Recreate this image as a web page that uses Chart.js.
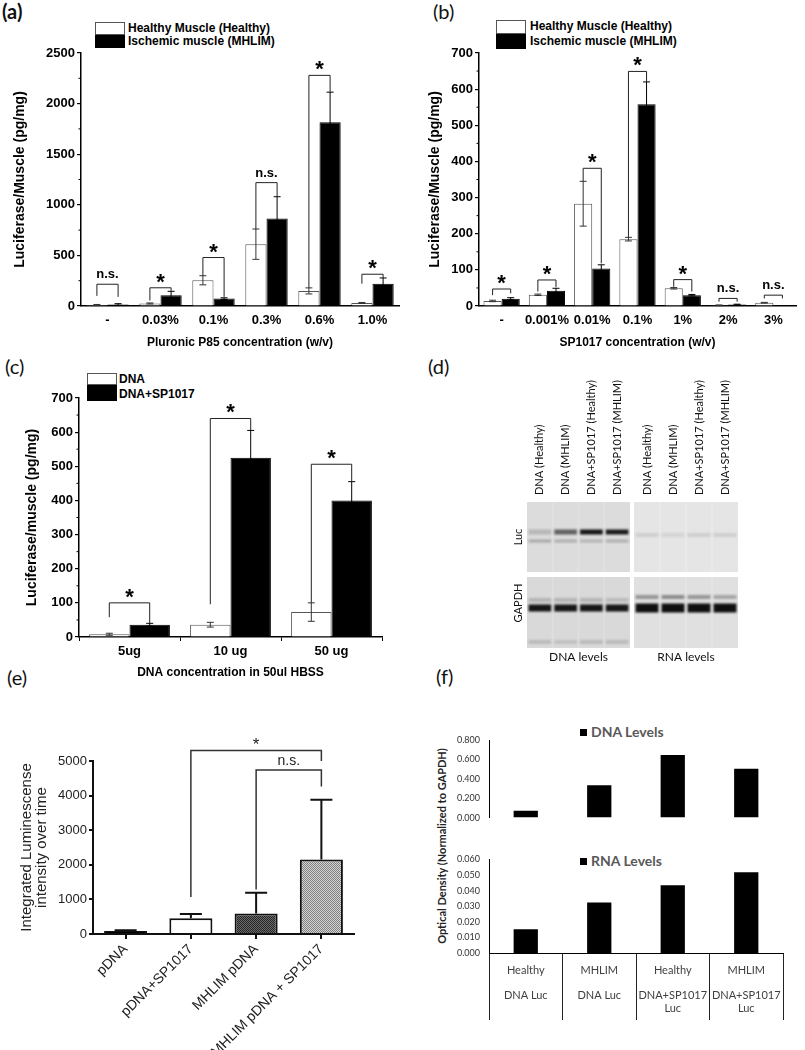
<!DOCTYPE html>
<html>
<head>
<meta charset="utf-8">
<script src="https://cdn.jsdelivr.net/npm/chart.js@4.4.1/dist/chart.umd.min.js"></script>
<style>
body{margin:0;background:#fff;width:805px;height:1050px;position:relative;overflow:hidden;font-family:'Liberation Sans',Arial,sans-serif}
canvas{position:absolute}
.plab{position:absolute;font-family:Lato,'Open Sans',sans-serif;font-size:20px;line-height:20px;color:#111}
.lg{position:absolute;font:bold 12px 'Liberation Sans',Arial,sans-serif;line-height:14px;color:#000;white-space:nowrap}
.box{position:absolute;box-sizing:border-box}
.fl{position:absolute;font:bold 14px Lato,sans-serif;line-height:16px;color:#595959;white-space:nowrap}
.fl span{display:inline-block;width:7px;height:7px;background:#000;margin-right:4px;vertical-align:1px}
</style>
</head>
<body>
<div class="plab" style="left:2px;top:1px;font-weight:bold">(a)</div>
<div class="plab" style="left:433px;top:1px">(b)</div>
<div class="plab" style="left:5px;top:356px">(c)</div>
<div class="plab" style="left:428px;top:356px">(d)</div>
<div class="plab" style="left:7px;top:667px">(e)</div>
<div class="plab" style="left:436px;top:666px">(f)</div>

<!-- legends -->
<div class="box" style="left:95px;top:22px;width:30px;height:13px;border:1px solid #555;background:#fff"></div>
<div class="box" style="left:95px;top:35px;width:30px;height:13px;background:#000"></div>
<div class="lg" style="left:128px;top:21px">Healthy Muscle (Healthy)</div>
<div class="lg" style="left:128px;top:34px">Ischemic muscle (MHLIM)</div>

<div class="box" style="left:496px;top:20px;width:30px;height:14px;border:1px solid #555;background:#fff"></div>
<div class="box" style="left:496px;top:34px;width:30px;height:15px;background:#000"></div>
<div class="lg" style="left:530px;top:19px">Healthy Muscle (Healthy)</div>
<div class="lg" style="left:530px;top:34px">Ischemic muscle (MHLIM)</div>

<div class="box" style="left:87px;top:373px;width:30px;height:12px;border:1px solid #555;background:#fff"></div>
<div class="box" style="left:87px;top:385px;width:30px;height:16px;background:#000"></div>
<div class="lg" style="left:119px;top:372px">DNA</div>
<div class="lg" style="left:119px;top:387px">DNA+SP1017</div>

<div class="fl" style="left:580px;top:724px"><span></span>DNA Levels</div>
<div class="fl" style="left:580px;top:853px"><span></span>RNA Levels</div>
<div style="position:absolute;left:312px;top:839px;width:260px;text-align:center;font:bold 11px Lato,sans-serif;line-height:14px;color:#222;transform:rotate(-90deg)">Optical Density (Normalized to GAPDH)</div>

<canvas id="ca" width="405" height="310" style="left:0;top:40px"></canvas>
<canvas id="cb" width="405" height="310" style="left:400px;top:40px"></canvas>
<canvas id="cc" width="405" height="325" style="left:0;top:355px"></canvas>
<canvas id="gd1" width="127" height="305" style="left:505px;top:365px"></canvas>
<canvas id="gd2" width="113" height="305" style="left:632px;top:365px"></canvas>
<canvas id="ce" width="400" height="330" style="left:0;top:720px"></canvas>
<canvas id="cf1" width="405" height="112" style="left:400px;top:720px"></canvas>
<canvas id="cf2" width="405" height="180" style="left:400px;top:845px"></canvas>

<script>
// ---------- data ----------
// (a) Pluronic P85
var catsA = ['-', '0.03%', '0.1%', '0.3%', '0.6%', '1.0%'];
var healthyA = [10, 25, 254, 611, 149, 30];
var healthyErrA = [5, 5, 45, 150, 30, 5];
var mhlimA = [15, 105, 73, 865, 1816, 221];
var mhlimErrA = [8, 40, 8, 215, 297, 56];
var bracketA = [215, 180, 479, 1219, 2279, 314];
var legLA = [100, 55, 299, 761, 179, 220];
var legRA = [90, 145, 90, 1080, 2113, 277];
var sigA = ['n.s.', '*', '*', 'n.s.', '*', '*'];

// (b) SP1017
var catsB = ['-', '0.001%', '0.01%', '0.1%', '1%', '2%', '3%'];
var healthyB = [14, 31, 283, 185, 49, 2, 9];
var healthyErrB = [2, 2, 62, 5, 2, 1, 1];
var mhlimB = [20, 42, 104, 558, 30, 4, 0];
var mhlimErrB = [3, 7, 10, 62, 2, 1, 0];
var bracketB = [47, 72, 381, 649, 73, 21, 30];
var legLB = [30, 40, 345, 190, 53, 12, 21];
var legRB = [35, 52, 118, 620, 40, 12, 21];
var sigB = ['*', '*', '*', '*', '*', 'n.s.', 'n.s.'];

// (c) DNA dose
var catsC = ['5ug', '10 ug', '50 ug'];
var dnaC = [8, 36, 73];
var dnaErrC = [3, 7, 27];
var spC = [36, 525, 400];
var spErrC = [4, 80, 55];
var bracketC = [100, 640, 506];
var legLC = [58, 96, 100];
var legRC = [40, 605, 455];
var sigC = ['*', '*', '*'];

// (d) gel band intensities (0..1) per lane
var gelLanes = ['DNA (Healthy)', 'DNA (MHLIM)', 'DNA+SP1017 (Healthy)', 'DNA+SP1017 (MHLIM)'];
var lucDNA = [0.18, 0.6, 0.97, 0.95];
var lucDNALow = [0.25, 0.22, 0.2, 0.22];
var lucRNA = [0.1, 0.08, 0.1, 0.1];
var gapdhDNA = [0.97, 0.97, 0.97, 0.97];
var gapdhDNAUp = [0.18, 0.18, 0.18, 0.15];
var gapdhDNALow = [0.15, 0.12, 0.15, 0.15];
var gapdhRNA = [1, 1, 1, 1];
var gapdhRNAUp = [0.35, 0.4, 0.35, 0.28];

// (e) integrated luminescence
var catsE = ['pDNA', 'pDNA+SP1017', 'MHLIM pDNA', 'MHLIM pDNA + SP1017'];
var valE = [90, 455, 590, 2150];
var errE = [20, 120, 600, 1730];
var pairsE = [[1, 3], [2, 3]];
var bracketE = [5300, 4740];
var legsE = [[1070, 5000], [1284, 4260]];
var sigE = ['*', 'n.s.'];

// (f) optical density
var groupF = ['Healthy', 'MHLIM', 'Healthy', 'MHLIM'];
var treatF = [['DNA Luc'], ['DNA Luc'], ['DNA+SP1017', 'Luc'], ['DNA+SP1017', 'Luc']];
var dnaF = [0.070, 0.333, 0.645, 0.503];
var rnaF = [0.0152, 0.0324, 0.0434, 0.0518];

Chart.defaults.font.family = "'Liberation Sans', Arial, sans-serif";
Chart.defaults.color = '#000';
Chart.defaults.animation = false;
Chart.defaults.plugins.legend.display = false;
Chart.defaults.plugins.tooltip.enabled = false;

function plain(v) { return String(v); }

// error bars, brackets and minor ticks for the grouped charts
function sigPlugin(cfg) {
  return {
    id: 'sig',
    afterDatasetsDraw: function(chart) {
      var ctx = chart.ctx, y = chart.scales.y, area = chart.chartArea;
      ctx.save();
      ctx.lineWidth = 1;
      cfg.errors.forEach(function(err, d) {
        var meta = chart.getDatasetMeta(d);
        var vals = chart.data.datasets[d].data;
        ctx.strokeStyle = d === 0 ? '#333' : '#000';
        meta.data.forEach(function(bar, i) {
          if (!err[i]) return;
          var yt = y.getPixelForValue(vals[i] + err[i]);
          var yb = y.getPixelForValue(Math.max(vals[i] - err[i], 0));
          ctx.beginPath();
          ctx.moveTo(bar.x, yt); ctx.lineTo(bar.x, yb);
          ctx.moveTo(bar.x - 3.5, yt); ctx.lineTo(bar.x + 3.5, yt);
          ctx.moveTo(bar.x - 3.5, yb); ctx.lineTo(bar.x + 3.5, yb);
          ctx.stroke();
        });
      });
      var m0 = chart.getDatasetMeta(0), m1 = chart.getDatasetMeta(1);
      ctx.strokeStyle = '#222';
      ctx.fillStyle = '#000';
      ctx.textAlign = 'center';
      ctx.textBaseline = 'alphabetic';
      cfg.bracket.forEach(function(b, i) {
        var x1 = m0.data[i].x, x2 = m1.data[i].x, yb = y.getPixelForValue(b);
        ctx.beginPath();
        ctx.moveTo(x1, y.getPixelForValue(cfg.legL[i]));
        ctx.lineTo(x1, yb); ctx.lineTo(x2, yb);
        ctx.lineTo(x2, y.getPixelForValue(cfg.legR[i]));
        ctx.stroke();
        if (cfg.sig[i] === '*') {
          ctx.font = "bold 22px 'Liberation Sans', Arial";
          ctx.fillText('*', (x1 + x2) / 2, yb + 1);
        } else {
          ctx.font = "bold 13px 'Liberation Sans', Arial";
          ctx.fillText(cfg.sig[i], (x1 + x2) / 2, yb - 6);
        }
      });
      // minor ticks on y axis
      ctx.strokeStyle = '#000';
      for (var v = cfg.minor; v < y.max; v += cfg.minor * 2) {
        var py = y.getPixelForValue(v);
        ctx.beginPath(); ctx.moveTo(area.left - 2.5, py); ctx.lineTo(area.left, py); ctx.stroke();
      }
      ctx.restore();
    }
  };
}

function groupedChart(id, o) {
  return new Chart(document.getElementById(id), {
    type: 'bar',
    data: {
      labels: o.labels,
      datasets: [
        { data: o.a, backgroundColor: '#fff', borderColor: '#555', borderWidth: 1, categoryPercentage: 0.8, barPercentage: 1 },
        { data: o.b, backgroundColor: '#000', borderColor: '#000', borderWidth: 1, categoryPercentage: 0.8, barPercentage: 1 }
      ]
    },
    options: {
      responsive: false,
      layout: { padding: o.pad },
      scales: {
        x: {
          ticks: { font: { size: 13, weight: 'bold' }, color: '#000', padding: 3, maxRotation: 0, minRotation: 0, autoSkip: false },
          grid: { display: o.xTicks, drawOnChartArea: false, tickLength: 4, color: '#000', offset: true },
          border: { display: true, color: '#000', width: 1.5 },
          title: { display: true, text: o.xTitle, font: { size: 12, weight: 'bold' }, color: '#000', padding: { top: 0, bottom: 0 } },
          afterFit: function(s) { s.height = o.xH; }
        },
        y: {
          min: 0, max: o.max,
          ticks: { stepSize: o.step, font: { size: 13, weight: 'bold' }, color: '#000', padding: 2, callback: plain },
          grid: { display: true, drawOnChartArea: false, tickLength: 4, color: '#000', lineWidth: 1.2 },
          border: { display: true, color: '#000', width: 1.5 },
          title: { display: true, text: o.yTitle, font: { size: 14, weight: 'bold' }, color: '#000', padding: { top: o.yTitlePad, bottom: 0 } },
          afterFit: function(s) { s.width = o.yW; }
        }
      }
    },
    plugins: [sigPlugin(o.sig)]
  });
}

groupedChart('ca', {
  labels: catsA, a: healthyA, b: mhlimA, max: 2500, step: 500, xTicks: false,
  pad: { top: 13, right: 6, left: 0, bottom: 0 }, xH: 44, yW: 81, yTitlePad: 11.6,
  xTitle: 'Pluronic P85 concentration (w/v)', yTitle: 'Luciferase/Muscle (pg/mg)',
  sig: { errors: [healthyErrA, mhlimErrA], bracket: bracketA, legL: legLA, legR: legRA, sig: sigA, minor: 250 }
});

groupedChart('cb', {
  labels: catsB, a: healthyB, b: mhlimB, max: 700, step: 100, xTicks: false,
  pad: { top: 13, right: 9, left: 0, bottom: 0 }, xH: 44, yW: 79, yTitlePad: 26.6,
  xTitle: 'SP1017 concentration (w/v)', yTitle: 'Luciferase/Muscle (pg/mg)',
  sig: { errors: [healthyErrB, mhlimErrB], bracket: bracketB, legL: legLB, legR: legRB, sig: sigB, minor: 50 }
});

groupedChart('cc', {
  labels: catsC, a: dnaC, b: spC, max: 700, step: 100, xTicks: true,
  pad: { top: 43, right: 23, left: 0, bottom: 0 }, xH: 43, yW: 79, yTitlePad: 23.6,
  xTitle: 'DNA concentration in 50ul HBSS', yTitle: 'Luciferase/muscle (pg/mg)',
  sig: { errors: [dnaErrC, spErrC], bracket: bracketC, legL: legLC, legR: legRC, sig: sigC, minor: 50 }
});

// ---------- (d) gels ----------
function gelPlugin(g) {
  return {
    id: 'gel',
    beforeDatasetsDraw: function(chart) {
      var ctx = chart.ctx, xs = chart.scales.x, ys = chart.scales.y, a = chart.chartArea;
      var lw = (a.right - a.left) / chart.data.labels.length;
      ctx.save();
      g.blocks.forEach(function(b) {
        var t = ys.getPixelForValue(b.from), bt = ys.getPixelForValue(b.to);
        ctx.fillStyle = b.color;
        ctx.fillRect(a.left, t, a.right - a.left, bt - t);
        // faint lane streaks
        ctx.fillStyle = 'rgba(255,255,255,0.15)';
        for (var i = 1; i < chart.data.labels.length; i++) {
          ctx.fillRect(a.left + i * lw - 1, t, 2, bt - t);
        }
      });
      ctx.filter = 'blur(1.1px)';
      g.bands.forEach(function(bd) {
        var py = ys.getPixelForValue(bd.pos);
        bd.vals.forEach(function(v, i) {
          var px = xs.getPixelForValue(i);
          ctx.fillStyle = 'rgba(15,15,15,' + v + ')';
          ctx.fillRect(px - lw * 0.44, py - bd.h / 2, lw * 0.88, bd.h);
        });
      });
      ctx.filter = 'none';
      // lane labels
      ctx.fillStyle = '#111';
      ctx.font = '11px Lato, sans-serif';
      ctx.textBaseline = 'middle';
      chart.data.labels.forEach(function(lab, i) {
        ctx.save();
        ctx.translate(xs.getPixelForValue(i), a.top - 7);
        ctx.rotate(-Math.PI / 2);
        ctx.textAlign = 'left';
        ctx.fillText(lab, 0, 0);
        ctx.restore();
      });
      g.side.forEach(function(s) {
        ctx.save();
        ctx.translate(a.left - 9, ys.getPixelForValue(s.at));
        ctx.rotate(-Math.PI / 2);
        ctx.textAlign = 'center';
        ctx.fillText(s.text, 0, 0);
        ctx.restore();
      });
      ctx.font = '12px Lato, sans-serif';
      ctx.textAlign = 'center';
      ctx.fillText(g.caption, (a.left + a.right) / 2, a.bottom + 9);
      ctx.restore();
    }
  };
}

function gelChart(id, pad, g) {
  return new Chart(document.getElementById(id), {
    type: 'bar',
    data: { labels: gelLanes, datasets: [{ data: [] }] },
    options: {
      responsive: false,
      layout: { padding: pad },
      scales: {
        x: { display: false },
        y: { display: false, min: 0, max: 146, reverse: true }
      }
    },
    plugins: [gelPlugin(g)]
  });
}

gelChart('gd1', { left: 22, right: 2, top: 137, bottom: 22 }, {
  blocks: [{ from: 0, to: 70, color: '#dcdcdc' }, { from: 75, to: 146, color: '#d9d9d9' }],
  bands: [
    { pos: 30, h: 5, vals: lucDNA },
    { pos: 39, h: 3, vals: lucDNALow },
    { pos: 98, h: 4, vals: gapdhDNAUp },
    { pos: 106, h: 7, vals: gapdhDNA },
    { pos: 140, h: 4, vals: gapdhDNALow }
  ],
  side: [{ text: 'Luc', at: 35 }, { text: 'GAPDH', at: 101 }],
  caption: 'DNA levels'
});

gelChart('gd2', { left: 2, right: 7, top: 137, bottom: 22 }, {
  blocks: [{ from: 0, to: 70, color: '#e5e5e5' }, { from: 75, to: 146, color: '#e0e0e0' }],
  bands: [
    { pos: 33, h: 4, vals: lucRNA },
    { pos: 95, h: 4, vals: gapdhRNAUp },
    { pos: 106, h: 9, vals: gapdhRNA }
  ],
  side: [],
  caption: 'RNA levels'
});

// ---------- (e) ----------
function dots(bg, fg) {
  var c = document.createElement('canvas');
  c.width = 2; c.height = 2;
  var x = c.getContext('2d');
  x.fillStyle = bg; x.fillRect(0, 0, 2, 2);
  x.fillStyle = fg; x.fillRect(0, 0, 1, 1); x.fillRect(1, 1, 1, 1);
  return x.createPattern(c, 'repeat');
}

var ePlugin = {
  id: 'eAnnot',
  afterDatasetsDraw: function(chart) {
    var ctx = chart.ctx, y = chart.scales.y, meta = chart.getDatasetMeta(0);
    ctx.save();
    ctx.strokeStyle = '#111';
    ctx.lineWidth = 2;
    meta.data.forEach(function(bar, i) {
      var top = y.getPixelForValue(valE[i]), yt = y.getPixelForValue(valE[i] + errE[i]);
      ctx.beginPath();
      ctx.moveTo(bar.x, top); ctx.lineTo(bar.x, yt);
      ctx.moveTo(bar.x - 11, yt); ctx.lineTo(bar.x + 11, yt);
      ctx.stroke();
    });
    ctx.lineWidth = 1.5;
    ctx.strokeStyle = '#333';
    ctx.fillStyle = '#222';
    ctx.textAlign = 'center';
    pairsE.forEach(function(p, k) {
      var x1 = meta.data[p[0]].x, x2 = meta.data[p[1]].x, yb = y.getPixelForValue(bracketE[k]);
      ctx.beginPath();
      ctx.moveTo(x1, y.getPixelForValue(legsE[k][0]));
      ctx.lineTo(x1, yb); ctx.lineTo(x2, yb);
      ctx.lineTo(x2, y.getPixelForValue(legsE[k][1]));
      ctx.stroke();
      if (sigE[k] === '*') {
        ctx.font = "17px 'Liberation Sans', Arial";
        ctx.fillText('*', (x1 + x2) / 2, yb - 1);
      } else {
        ctx.font = "14px 'Liberation Sans', Arial";
        ctx.fillText(sigE[k], (x1 + x2) / 2, yb - 5);
      }
    });
    ctx.restore();
  }
};

new Chart(document.getElementById('ce'), {
  type: 'bar',
  data: {
    labels: catsE,
    datasets: [{
      data: valE,
      backgroundColor: ['#000', '#fff', dots('#6a6a6a', '#262626'), dots('#d4d4d4', '#808080')],
      borderColor: '#111', borderWidth: 2, borderSkipped: 'bottom',
      barPercentage: 0.66, categoryPercentage: 1
    }]
  },
  options: {
    responsive: false,
    layout: { padding: { top: 41, right: 46, left: 0, bottom: 0 } },
    scales: {
      x: {
        ticks: { font: { size: 14 }, color: '#222', padding: 2, maxRotation: 45, minRotation: 45, autoSkip: false },
        grid: { display: true, drawOnChartArea: false, tickLength: 5, color: '#111', lineWidth: 2, offset: false },
        border: { display: true, color: '#111', width: 2 },
        afterFit: function(s) { s.height = 116; }
      },
      y: {
        min: 0, max: 5000,
        ticks: { stepSize: 1000, font: { size: 13 }, color: '#222', padding: 2, callback: plain },
        grid: { display: true, drawOnChartArea: false, tickLength: 4, color: '#111', lineWidth: 2 },
        border: { display: true, color: '#111', width: 2 },
        title: { display: true, text: ['Integrated Luminescense', 'intensity over time'], font: { size: 15, lineHeight: 1 }, color: '#222', padding: { top: 19.5, bottom: 0 } },
        afterFit: function(s) { s.width = 93; }
      }
    }
  },
  plugins: [ePlugin]
});

// ---------- (f) ----------
function odY(max, step, width) {
  return {
    min: 0, max: max,
    ticks: { stepSize: step, font: { family: 'Lato, sans-serif', size: 9 }, color: '#333', padding: 9,
      callback: function(v) { return v.toFixed(3); } },
    grid: { display: false, drawTicks: false },
    border: { display: true, color: '#000', width: 1 },
    afterFit: function(s) { s.width = width; }
  };
}

new Chart(document.getElementById('cf1'), {
  type: 'bar',
  data: { labels: groupF, datasets: [{ data: dnaF, backgroundColor: '#000', barPercentage: 0.33, categoryPercentage: 1 }] },
  options: {
    responsive: false,
    layout: { padding: { top: 20, right: 22, left: 0, bottom: 4 } },
    scales: { x: { display: false }, y: odY(0.8, 0.2, 89) }
  }
});

new Chart(document.getElementById('cf2'), {
  type: 'bar',
  data: {
    labels: groupF.map(function(g, i) { return [g, ''].concat(treatF[i]); }),
    datasets: [{ data: rnaF, backgroundColor: '#000', barPercentage: 0.33, categoryPercentage: 1 }]
  },
  options: {
    responsive: false,
    layout: { padding: { top: 13, right: 22, left: 0, bottom: 0 } },
    scales: {
      x: {
        ticks: { font: { family: 'Lato, sans-serif', size: 11, lineHeight: 1.15 }, color: '#404040', padding: -56.3, maxRotation: 0, minRotation: 0, autoSkip: false },
        grid: { display: true, drawOnChartArea: false, tickLength: 67, color: '#222', offset: true },
        border: { display: true, color: '#000', width: 1 },
        afterFit: function(s) { s.height = 72; }
      },
      y: odY(0.06, 0.01, 89)
    }
  }
});
</script>
</body>
</html>
